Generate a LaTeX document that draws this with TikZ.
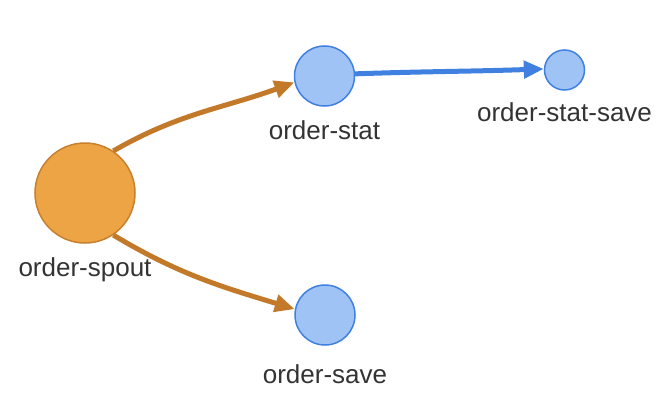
\documentclass[tikz,border=0pt]{standalone}
\usepackage{fontspec}
\setmainfont{Liberation Sans}
\usetikzlibrary{arrows.meta}
\definecolor{spoutfill}{HTML}{EDA445}
\definecolor{spoutline}{HTML}{C8802E}
\definecolor{orangeedge}{HTML}{C27A2A}
\definecolor{boltfill}{HTML}{A0C3F5}
\definecolor{boltline}{HTML}{4080E0}
\definecolor{labelgray}{HTML}{333333}

\begin{document}
\begin{tikzpicture}[x=1pt, y=1pt,
    spout/.style={circle, fill=spoutfill, draw=spoutline, line width=1.5pt, inner sep=0pt},
    bolt/.style={circle, fill=boltfill, draw=boltline, line width=1.5pt, inner sep=0pt},
    lbl/.style={anchor=base, inner sep=0pt, text=labelgray, font=\fontsize{26}{30}\selectfont},
    flow/.style={line width=5pt, -{Triangle[length=20pt, width=17pt]}}]
    \useasboundingbox (0,0) rectangle (666,400);
    \node[spout, minimum size=100pt] at (85,207) (orderspout) {};
    \node[bolt, minimum size=60pt] at (324.5,324) (orderstat) {};
    \node[bolt, minimum size=40pt] at (564.5,330) (orderstatsave) {};
    \node[bolt, minimum size=60pt] at (325,85) (ordersave) {};
    \draw[flow, orangeedge] (orderspout.56) to [out=30, in=200] (orderstat.192);
    \draw[flow, orangeedge] (orderspout.-56) to [out=-31, in=163] (ordersave.169);
    \draw[flow, boltline] (orderstat.4) to [out=2, in=182] (orderstatsave.177);
    \node[lbl] at (85,124) (spoutlabel) {order-spout};
    \node[lbl] at (324.5,260.5) (statlabel) {order-stat};
    \node[lbl] at (564.5,279) (statsavelabel) {order-stat-save};
    \node[lbl] at (325,17) (savelabel) {order-save};
\end{tikzpicture}
\end{document}
